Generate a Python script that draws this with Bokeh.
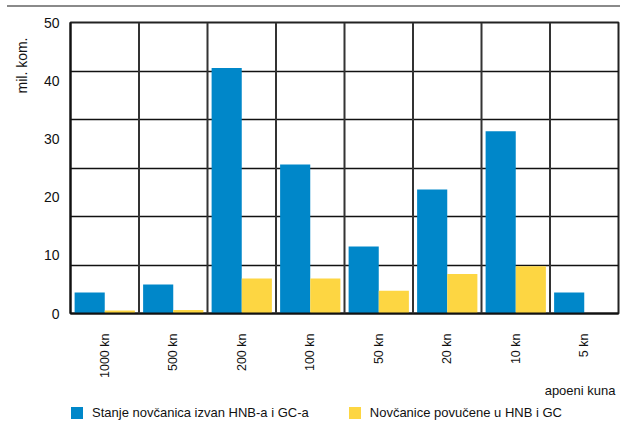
import math
from bokeh.plotting import figure
from bokeh.models import (ColumnDataSource, FactorRange, Range1d, FixedTicker, Span,
                          Legend, LegendItem, Div, Title)
from bokeh.transform import dodge
from bokeh.layouts import column
from bokeh.embed import file_html
from bokeh.resources import INLINE

categories = ["1000 kn", "500 kn", "200 kn", "100 kn", "50 kn", "20 kn", "10 kn", "5 kn"]
stanje = [3.6, 5.0, 42.2, 25.6, 11.5, 21.3, 31.3, 3.6]
povucene = [0.5, 0.6, 6.0, 6.0, 3.9, 6.8, 8.1, 0.1]
y_ticks = [0, 10, 20, 30, 40, 50]
grid_steps = 6

series_names = ["Stanje novčanica izvan HNB-a i GC-a", "Novčanice povučene u HNB i GC"]
colors = ["#0087C9", "#FDD642"]
FONT = "Liberation Sans"
TXT = "#111111"

source = ColumnDataSource(dict(cat=categories, stanje=stanje, povucene=povucene))

p = figure(width=620, height=391, x_range=FactorRange(*categories, range_padding=0),
           y_range=Range1d(0, 50), output_backend="svg", toolbar_location=None,
           min_border_left=68, min_border_right=2, min_border_top=10, min_border_bottom=90)

r1 = p.vbar(x=dodge("cat", -0.22, range=p.x_range), top="stanje", width=0.44,
            source=source, color=colors[0], line_color=None)
r2 = p.vbar(x=dodge("cat", 0.22, range=p.x_range), top="povucene", width=0.44,
            source=source, color=colors[1], line_color=None)

# grid
p.xgrid.visible = False
p.ygrid.ticker = FixedTicker(ticks=[50 * k / grid_steps for k in range(1, grid_steps)])
p.ygrid.grid_line_color = "#111111"
p.ygrid.grid_line_width = 1.5
p.ygrid.grid_line_alpha = 1
for i in range(1, len(categories)):
    p.add_layout(Span(location=i, dimension="height", line_color="#333333", line_width=2))
p.outline_line_color = "#222222"
p.outline_line_width = 2

# axes
p.yaxis.ticker = FixedTicker(ticks=y_ticks)
p.yaxis.major_tick_line_color = None
p.yaxis.minor_tick_line_color = None
p.yaxis.axis_line_color = "#111111"
p.yaxis.axis_line_width = 2
p.yaxis.major_label_standoff = 5
p.yaxis.major_label_text_font = FONT
p.yaxis.major_label_text_font_size = "14px"
p.yaxis.major_label_text_color = TXT

p.xaxis.major_tick_line_color = None
p.xaxis.axis_line_color = "#111111"
p.xaxis.axis_line_width = 2
p.xaxis.major_label_orientation = math.pi / 2
p.xaxis.major_label_standoff = 14
p.xaxis.major_label_text_font = FONT
p.xaxis.major_label_text_font_size = "12.5px"
p.xaxis.major_label_text_color = TXT

# axis titles
p.add_layout(Title(text="mil. kom.", align="right", offset=15, standoff=22,
                   text_font=FONT, text_font_size="14px", text_font_style="normal",
                   text_color=TXT), "left")
p.add_layout(Title(text="apoeni kuna", align="right", offset=3, standoff=0,
                   text_font=FONT, text_font_size="13px", text_font_style="normal",
                   text_color=TXT), "below")

# legend row (separate strip; its bars fall outside its y range, only the legend shows)
lf = figure(width=620, height=24, x_range=p.x_range, y_range=Range1d(100, 101),
            output_backend="svg", toolbar_location=None, min_border=0)
lf.axis.visible = False
lf.grid.visible = False
lf.outline_line_color = None
lr1 = lf.vbar(x=dodge("cat", -0.22, range=p.x_range), top="stanje", width=0.44,
              source=source, color=colors[0], line_color=None)
lr2 = lf.vbar(x=dodge("cat", 0.22, range=p.x_range), top="povucene", width=0.44,
              source=source, color=colors[1], line_color=None)
legend = Legend(items=[LegendItem(label=series_names[0], renderers=[lr1]),
                       LegendItem(label=series_names[1], renderers=[lr2])],
                location=(-1, 7), orientation="horizontal", glyph_width=15, glyph_height=15,
                label_standoff=8, spacing=38, padding=0, margin=0, label_height=15,
                border_line_color=None, background_fill_alpha=0, label_text_font=FONT,
                label_text_font_size="13px", label_text_color=TXT)
lf.add_layout(legend, "center")

top_line = Div(width=613, height=2, styles={"border-top": "2px solid #8a8a8a", "margin-left": "7px"})
layout = column(top_line, p, lf, spacing=0)

open("out.html", "w").write(file_html(layout, INLINE))
